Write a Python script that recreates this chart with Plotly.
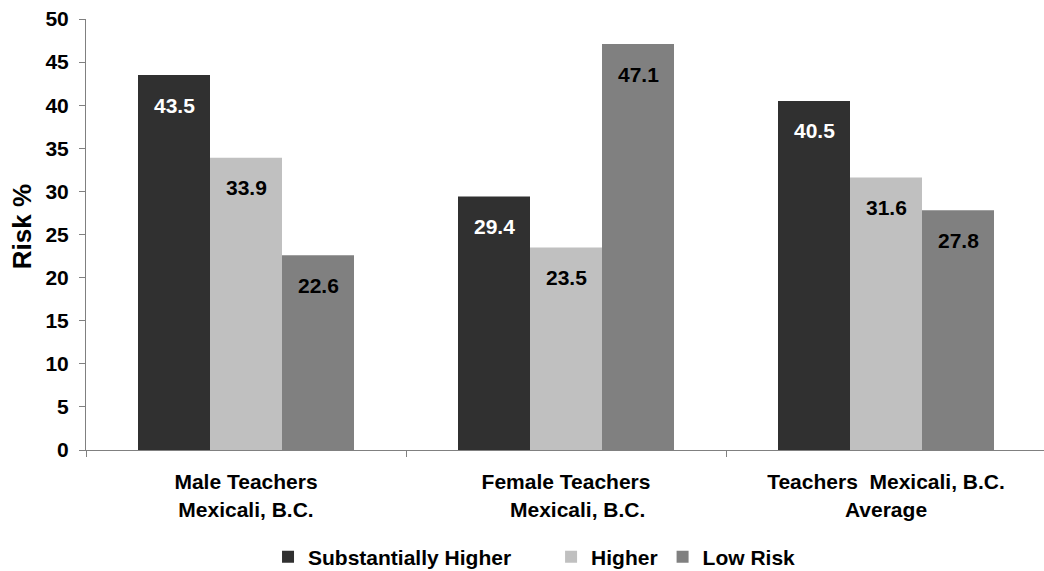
import plotly.graph_objects as go

categories = [
    "Male Teachers<br>Mexicali, B.C.",
    "Female Teachers<br>\u00a0\u00a0\u00a0\u00a0Mexicali, B.C.",
    "Teachers\u00a0\u00a0Mexicali, B.C.<br>Average",
]
series_names = ["Substantially Higher", "Higher", "Low Risk"]
substantially_higher = [43.5, 29.4, 40.5]
higher = [33.9, 23.5, 31.6]
low_risk = [22.6, 47.1, 27.8]
y_ticks = [0, 5, 10, 15, 20, 25, 30, 35, 40, 45, 50]
y_title = "Risk %"

series_values = [substantially_higher, higher, low_risk]
colors = ["#303030", "#C0C0C0", "#808080"]
label_colors = ["white", "black", "black"]
legend_pad = ["\u00a0" * 6, "", ""]

FONT = "Liberation Sans, Arial, sans-serif"
FS = 21
BARGAP = 0.325
bar_w = (1 - BARGAP) / len(series_names)

fig = go.Figure()
for name, pad, vals, col in zip(series_names, legend_pad, series_values, colors):
    fig.add_trace(go.Bar(x=categories, y=vals, name=name + pad,
                         marker=dict(color=col, line=dict(width=0))))

annotations = []
for si, (vals, tcol) in enumerate(zip(series_values, label_colors)):
    for ci, v in enumerate(vals):
        annotations.append(dict(
            x=ci + (si - 1) * bar_w, y=v, xref="x", yref="y",
            text=f"{v:.1f}", showarrow=False, yshift=-30,
            font=dict(family=FONT, size=FS, color=tcol, weight=700),
        ))
annotations.append(dict(
    x=-0.0668, y=0.517, xref="paper", yref="paper", text=y_title,
    textangle=-90, showarrow=False, xanchor="center", yanchor="middle",
    font=dict(family=FONT, size=26, color="black", weight=700),
))

fig.update_layout(
    width=1044, height=571,
    margin=dict(l=86, r=0, t=19, b=121, autoexpand=False),
    paper_bgcolor="white", plot_bgcolor="white",
    barmode="group", bargap=BARGAP, bargroupgap=0,
    font=dict(family=FONT, size=FS, color="black", weight=700),
    showlegend=True,
    legend=dict(orientation="h", x=0.19, xanchor="left",
                yref="container", y=1 - 557 / 571, yanchor="middle",
                font=dict(family=FONT, size=FS, color="black", weight=700),
                traceorder="normal", itemwidth=30),
    annotations=annotations,
)
fig.update_xaxes(
    type="category", range=[-0.5, -0.5 + 958 / 320],
    showline=True, linecolor="#808080", linewidth=1,
    ticks="outside", tickson="boundaries", ticklen=6, tickcolor="#808080",
    showgrid=False, zeroline=False, ticklabelstandoff=13,
    tickfont=dict(family=FONT, size=FS, color="black", weight=700),
)
fig.update_yaxes(
    range=[0, 50], tickvals=y_ticks,
    showline=True, linecolor="#808080", linewidth=1,
    ticks="outside", ticklen=6, tickcolor="#808080",
    showgrid=False, zeroline=False,
    tickfont=dict(family=FONT, size=FS, color="black", weight=700),
    ticklabelstandoff=6,
)

fig.write_html("out.html", config={"displayModeBar": False},
               post_script="document.body.style.margin='0';")
